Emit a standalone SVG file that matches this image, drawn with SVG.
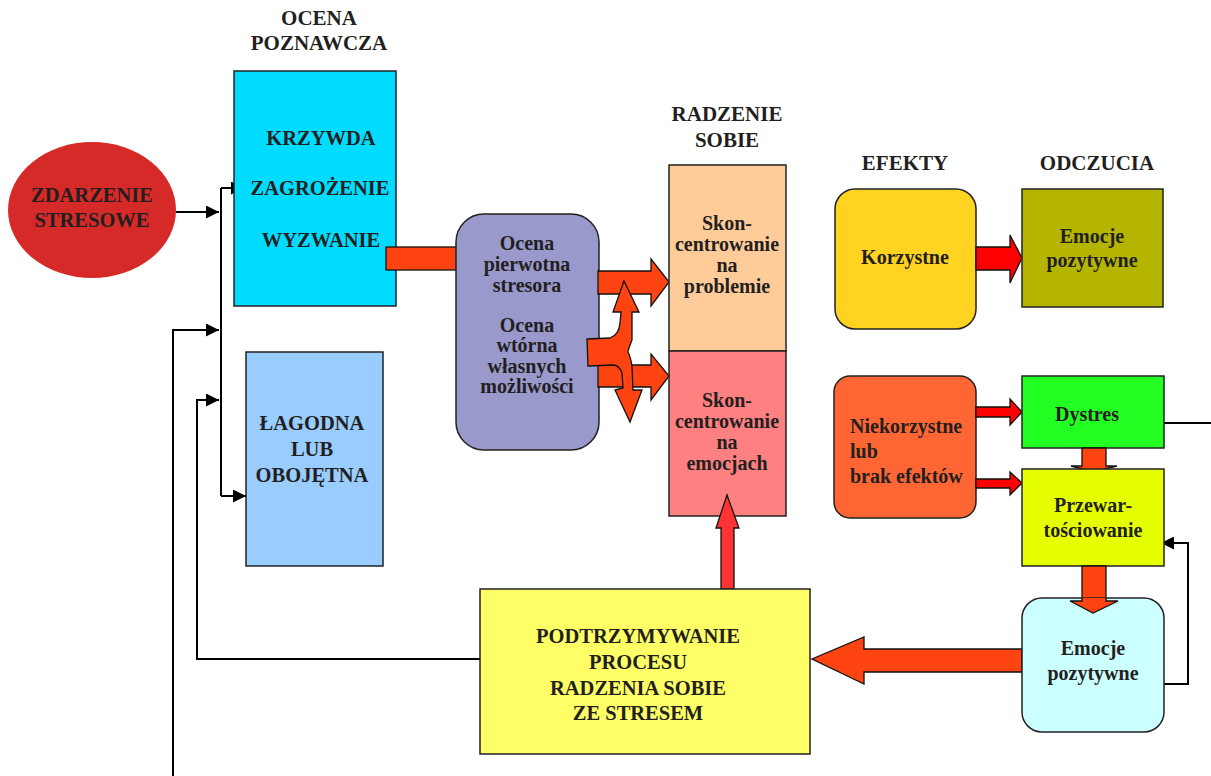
<svg xmlns="http://www.w3.org/2000/svg" width="1211" height="776" viewBox="0 0 1211 776">
<style>
text{font-family:"Liberation Serif","Times New Roman",serif;font-weight:bold;fill:#231f20;text-anchor:middle}
.cap{font-size:20.5px}
.hd{font-size:21px}
.lc{font-size:20px}
.box{stroke:#222;stroke-width:1.5}
.blk{stroke:#000;stroke-width:2;fill:none}
.arr{stroke:#111;stroke-width:1.3;stroke-linejoin:miter}
</style>
<defs>
<marker id="ah" markerUnits="userSpaceOnUse" markerWidth="13" markerHeight="13" refX="13" refY="6.5" orient="auto">
<path d="M0,0 L13,6.5 L0,13 z" fill="#000"/>
</marker>
</defs>
<rect width="1211" height="776" fill="#fff"/>

<g id="headers">
<text class="hd" x="319" y="25">OCENA</text>
<text class="hd" x="319" y="50">POZNAWCZA</text>
<text class="hd" x="727" y="121">RADZENIE</text>
<text class="hd" x="727" y="147">SOBIE</text>
<text class="hd" x="905" y="170">EFEKTY</text>
<text class="hd" x="1097" y="170">ODCZUCIA</text>
</g>

<g id="connectors">
<polyline class="blk" points="176,212 219,212" marker-end="url(#ah)"/>
<line class="blk" x1="221" y1="188" x2="221" y2="496"/>
<polyline class="blk" points="221,188 244,188" marker-end="url(#ah)"/>
<polyline class="blk" points="173,776 173,330 219,330" marker-end="url(#ah)"/>
<polyline class="blk" points="480,659 197,659 197,400 219,400" marker-end="url(#ah)"/>
<polyline class="blk" points="221,496 246,496" marker-end="url(#ah)"/>
<line class="blk" x1="1164" y1="423" x2="1211" y2="423"/>
<polyline class="blk" points="1164,684 1188,684 1188,543 1161,543" marker-end="url(#ah)"/>
</g>

<g id="zdarzenie">
<ellipse cx="92" cy="210" rx="84" ry="68" fill="#d62a28"/>
<text class="cap" x="92" y="202">ZDARZENIE</text>
<text class="cap" x="92" y="227">STRESOWE</text>
</g>

<g id="ocena-poznawcza">
<rect class="box" x="234" y="71" width="162" height="235" fill="#00dcff"/>
<text class="cap" x="321" y="145">KRZYWDA</text>
<text class="cap" x="320" y="195">ZAGROŻENIE</text>
<text class="cap" x="321" y="247">WYZWANIE</text>
</g>

<g id="lagodna">
<rect class="box" x="246" y="352" width="137" height="214" fill="#99ccff"/>
<text class="cap" x="312" y="430">ŁAGODNA</text>
<text class="cap" x="312" y="456">LUB</text>
<text class="cap" x="312" y="482">OBOJĘTNA</text>
</g>

<g id="bar1">
<rect class="arr" x="386" y="247" width="71" height="23" fill="#ff4411"/>
</g>

<g id="ocena-pierwotna">
<rect class="box" x="456" y="214" width="143" height="236" rx="28" fill="#9999cc"/>
<text class="lc" x="527" y="250">Ocena</text>
<text class="lc" x="527" y="271">pierwotna</text>
<text class="lc" x="527" y="292">stresora</text>
<text class="lc" x="527" y="332">Ocena</text>
<text class="lc" x="527" y="352">wtórna</text>
<text class="lc" x="527" y="373">własnych</text>
<text class="lc" x="527" y="393">możliwości</text>
</g>

<g id="radzenie-arrows">
<path class="arr" d="M598,271 H651 V259 L669,282 L651,306 V294 H598 Z" fill="#ff4411"/>
<path class="arr" d="M598,365 H651 V354 L669,376 L651,400 V387 H598 Z" fill="#ff4411"/>
<path class="arr" d="M587,339 L610,338 Q619,335 620,323 L621,312 L613,312 L624,281 L639,312 L632,312 L632,340 Q628,350 628,352 Q631,358 632,367 L633,390 L642,390 L630,422 L615,390 L623,388 L622,373 Q619,365 613,365 L588,366 Z" fill="#ff4411"/>
</g>

<g id="problem">
<rect class="box" x="669" y="165" width="117" height="186" fill="#ffcc99"/>
<text class="lc" x="727" y="230">Skon-</text>
<text class="lc" x="727" y="251">centrowanie</text>
<text class="lc" x="727" y="272">na</text>
<text class="lc" x="727" y="293">problemie</text>
</g>

<g id="emocje-box">
<rect class="box" x="669" y="351" width="117" height="165" fill="#ff8080"/>
<text class="lc" x="727" y="407">Skon-</text>
<text class="lc" x="727" y="428">centrowanie</text>
<text class="lc" x="727" y="449">na</text>
<text class="lc" x="727" y="470">emocjach</text>
</g>

<g id="up-arrow">
<path class="arr" d="M721,589 V528 H716 L727,495 L739,528 H734 V589 Z" fill="#ff3333"/>
</g>

<g id="podtrzymywanie">
<rect class="box" x="480" y="589" width="330" height="165" fill="#ffff66"/>
<text class="cap" x="638" y="643">PODTRZYMYWANIE</text>
<text class="cap" x="638" y="669">PROCESU</text>
<text class="cap" x="638" y="695">RADZENIA SOBIE</text>
<text class="cap" x="638" y="720">ZE STRESEM</text>
</g>

<g id="big-left-arrow">
<path class="arr" d="M1022,649 H864 V637 L812,659 L864,684 V672 H1022 Z" fill="#ff4411"/>
</g>

<g id="korzystne">
<rect class="box" x="835" y="189" width="141" height="140" rx="20" fill="#ffd320"/>
<text class="lc" x="905" y="264">Korzystne</text>
</g>

<g id="arrow-korzystne">
<path class="arr" d="M976,247 H1010 V235 L1022,258 L1010,283 V270 H976 Z" fill="#ff0000"/>
</g>

<g id="emocje-poz-1">
<rect class="box" x="1022" y="189" width="141" height="118" fill="#b5b500"/>
<text class="lc" x="1092" y="243">Emocje</text>
<text class="lc" x="1092" y="267">pozytywne</text>
</g>

<g id="niekorzystne">
<rect class="box" x="834" y="376" width="142" height="142" rx="16" fill="#ff6633"/>
<text class="lc" x="850" y="433" style="text-anchor:start">Niekorzystne</text>
<text class="lc" x="850" y="458" style="text-anchor:start">lub</text>
<text class="lc" x="850" y="483" style="text-anchor:start">brak efektów</text>
</g>

<g id="arrows-niekorzystne">
<path class="arr" d="M976,407 H1010 V399 L1022,412 L1010,425 V417 H976 Z" fill="#ff0000"/>
<path class="arr" d="M976,479 H1010 V472 L1022,483 L1010,495 V488 H976 Z" fill="#ff0000"/>
</g>

<g id="dystres">
<rect class="box" x="1022" y="376" width="142" height="72" fill="#22ff22"/>
<text class="lc" x="1087" y="421">Dystres</text>
</g>

<g id="arrow-dystres-down">
<path class="arr" d="M1082,448 V466 H1071 L1093,472 L1117,466 H1106 V448 Z" fill="#ff4411"/>
</g>

<g id="przewartosciowanie">
<rect class="box" x="1022" y="469" width="142" height="97" fill="#e6ff00"/>
<text class="lc" x="1093" y="512">Przewar-</text>
<text class="lc" x="1093" y="537">tościowanie</text>
</g>

<g id="arrow-przew-down">
<path class="arr" d="M1082,566 V601 H1070 L1093,613 L1118,601 H1106 V566 Z" fill="#ff4411"/>
</g>

<g id="emocje-poz-2">
<rect class="box" x="1022" y="598" width="142" height="134" rx="20" fill="#ccffff"/>
<path class="arr" d="M1082,598 V601 H1070 L1093,613 L1118,601 H1106 V598" fill="#ff4411"/>
<text class="lc" x="1093" y="655">Emocje</text>
<text class="lc" x="1093" y="680">pozytywne</text>
</g>
</svg>
